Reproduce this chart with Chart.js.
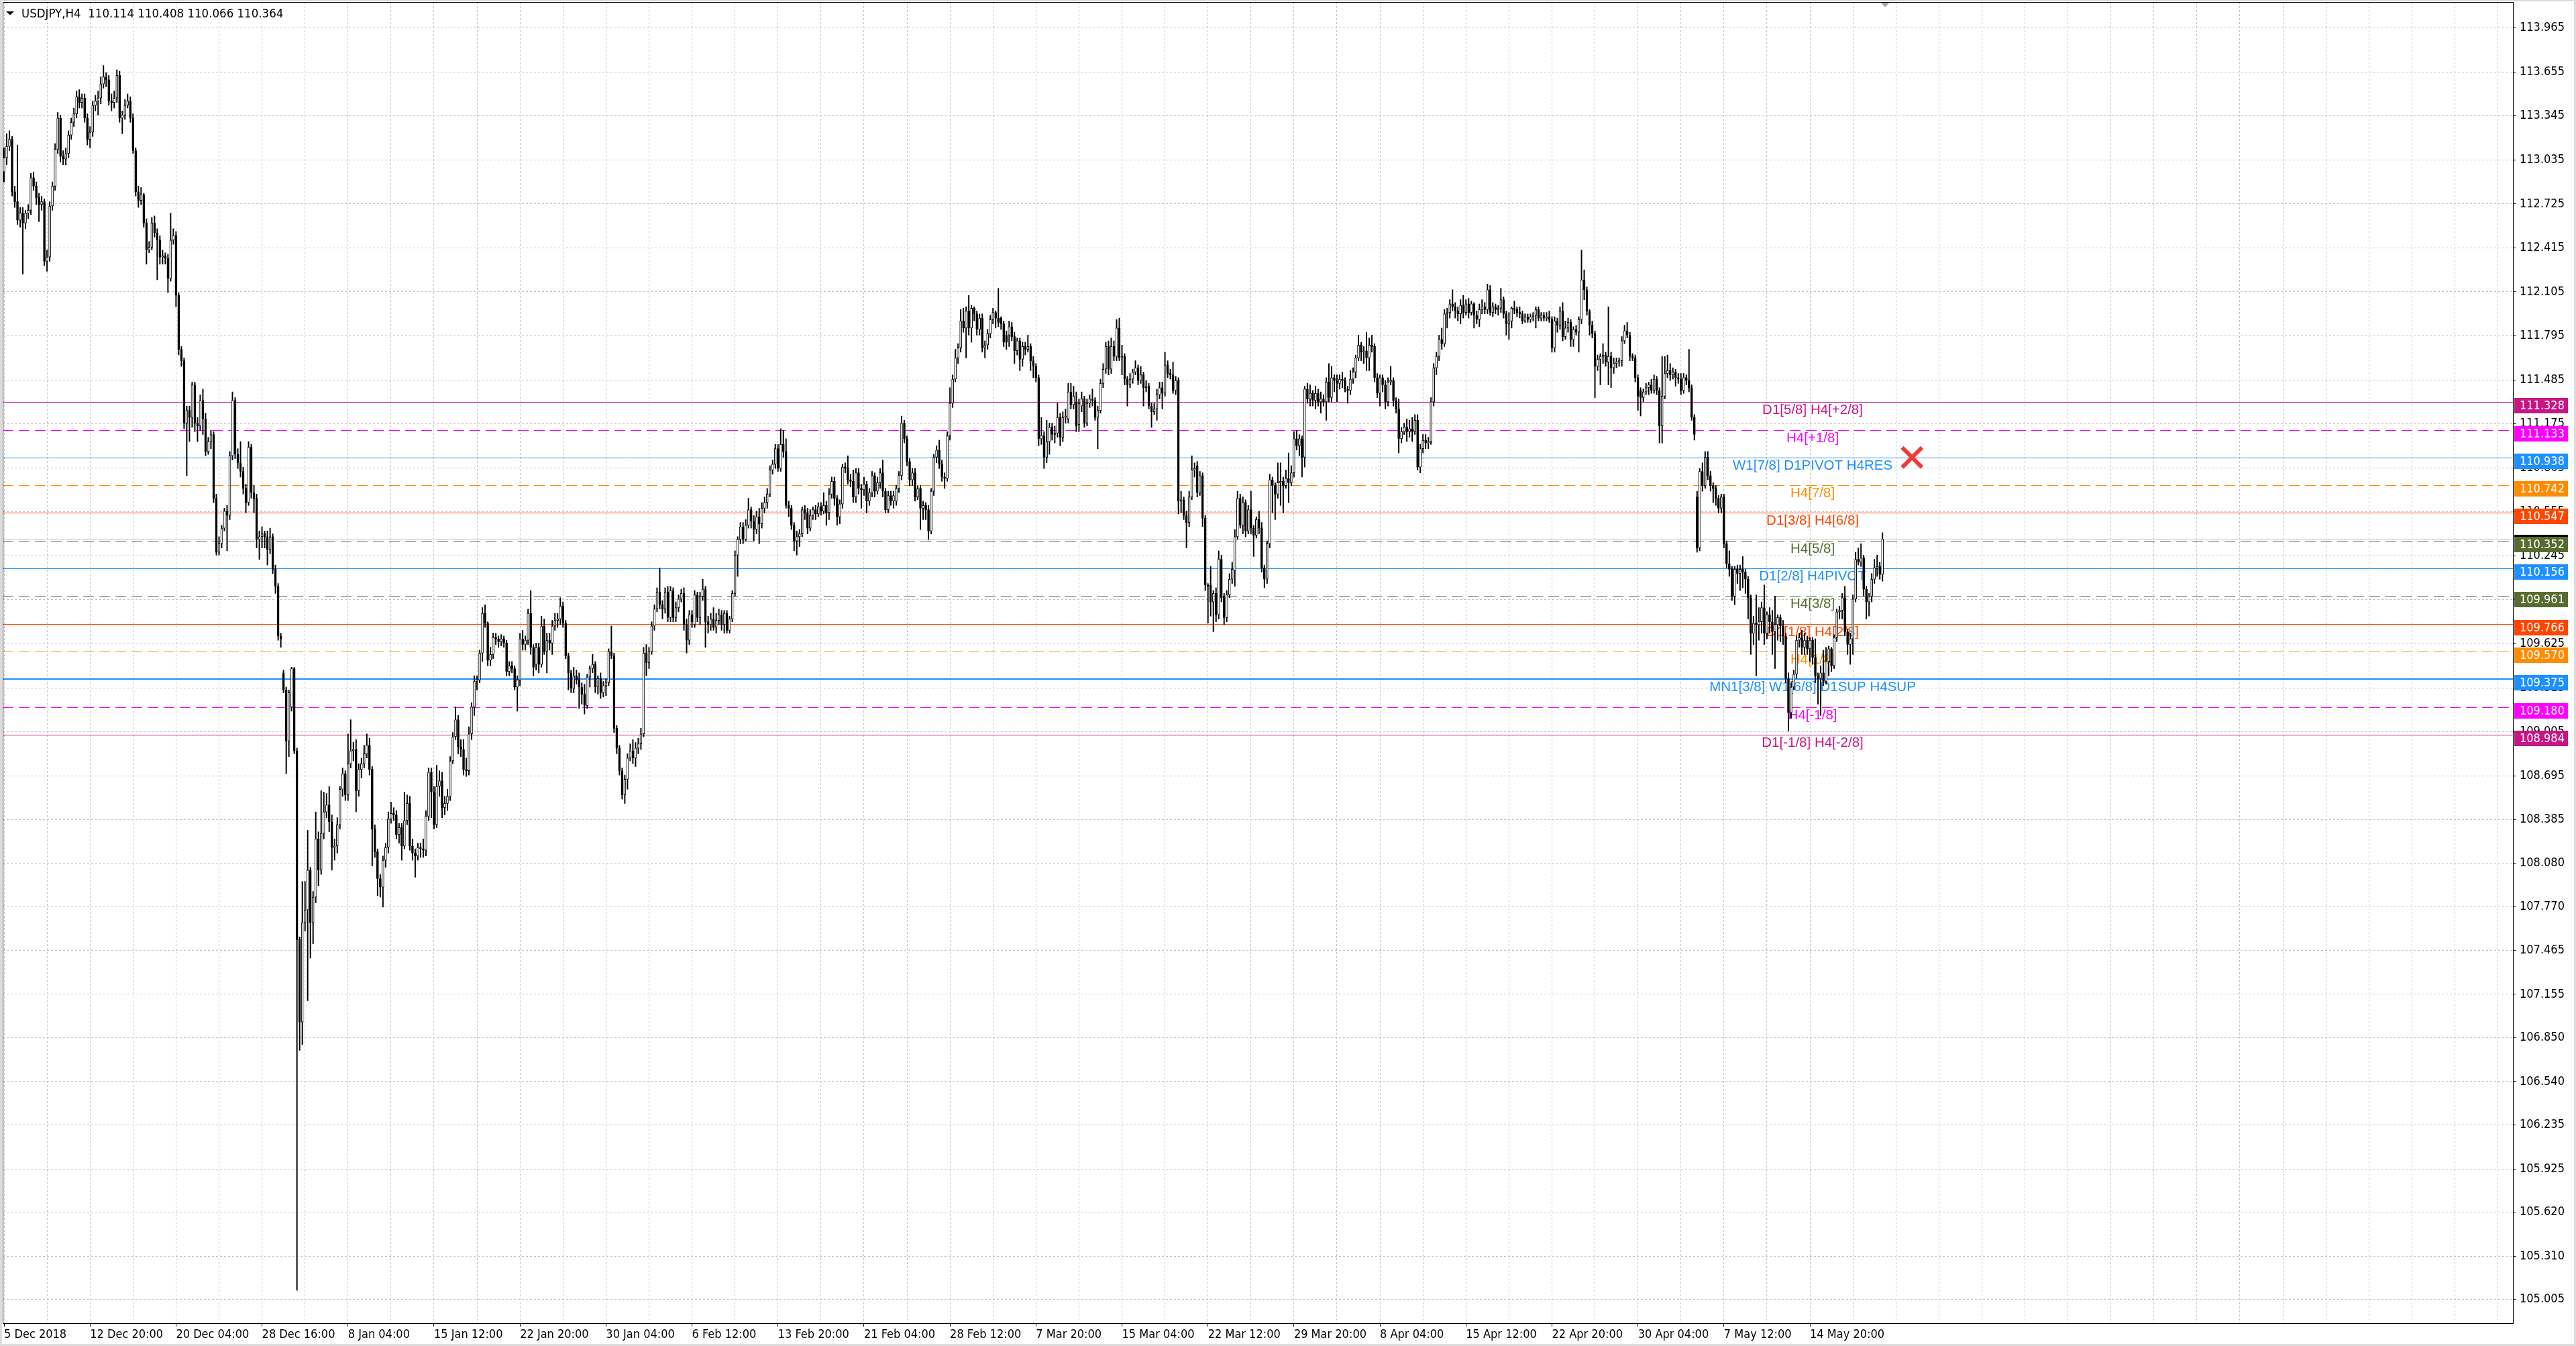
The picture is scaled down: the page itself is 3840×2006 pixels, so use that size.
<!DOCTYPE html>
<html><head><meta charset="utf-8">
<script src="https://cdn.jsdelivr.net/npm/chart.js@4.4.1/dist/chart.umd.min.js"></script>
<style>html,body{margin:0;padding:0;background:#fff;overflow:hidden}canvas{display:block}</style>
</head><body>
<canvas id="c" width="3840" height="2006"></canvas>
<script>
const headerText = 'USDJPY,H4  110.114 110.408 110.066 110.364';

const opens = [
112.95,113.05,113.13,113.18,112.81,112.74,112.61,112.66,112.59,112.66,
112.68,112.91,112.85,112.77,112.72,112.74,112.32,112.35,112.71,112.85,
113.11,113.33,113.06,113.04,113.08,113.21,113.30,113.36,113.48,113.44,
113.47,113.33,113.18,113.23,113.42,113.45,113.47,113.57,113.62,113.60,
113.45,113.44,113.47,113.63,113.33,113.35,113.42,113.45,113.33,113.10,
112.81,112.75,112.79,112.59,112.40,112.42,112.59,112.52,112.47,112.35,
112.36,112.34,112.20,112.47,112.50,112.08,111.70,111.62,111.18,111.27,
111.22,111.45,111.18,111.16,111.34,111.21,110.98,111.05,111.10,110.65,
110.27,110.33,110.44,110.56,110.53,110.95,111.34,110.96,110.90,110.84,
110.72,110.62,111.01,110.69,110.65,110.36,110.38,110.40,110.38,110.29,
110.38,110.15,110.03,109.68,
109.42,109.30,108.94,109.18,109.45,108.87,
107.54,106.96,107.66,107.75,108.03,107.66,107.84,108.25,108.03,108.29,
108.44,108.49,108.37,108.19,108.20,108.35,108.60,108.71,108.56,108.78,
108.87,108.88,108.59,108.74,108.78,108.85,108.91,108.74,108.32,108.16,
107.97,107.91,108.10,108.19,108.39,108.43,108.42,108.28,108.33,108.20,
108.38,108.50,108.20,108.15,108.13,108.19,108.18,108.17,108.41,108.72,
108.58,108.35,108.62,108.66,108.47,108.50,108.55,108.80,108.97,109.09,
108.90,108.88,108.74,108.73,108.99,109.18,109.36,109.37,
109.56,109.84,
109.77,109.51,109.55,109.67,109.66,109.64,109.66,109.63,109.43,109.47,
109.45,109.32,109.37,109.66,109.62,109.65,109.84,109.60,109.48,109.60,
109.48,109.75,109.57,109.65,109.63,109.75,109.79,109.80,109.89,109.77,
109.54,109.42,109.31,109.40,109.37,109.32,109.27,109.19,109.39,109.45,
109.48,109.32,109.38,109.28,109.33,109.35,109.57,109.54,109.03,108.89,
108.73,108.56,108.67,108.82,108.87,108.82,108.89,108.92,108.99,109.56,
109.49,109.57,109.75,109.87,109.99,109.90,109.87,109.99,109.81,110.00,
109.81,109.88,109.94,109.98,109.76,109.65,109.83,109.76,109.97,109.81,
109.96,110.01,109.78,109.76,109.80,109.74,109.79,109.83,109.76,109.84,
109.72,109.80,109.98,110.25,110.36,110.45,110.36,110.46,110.57,110.49,
110.43,110.52,110.47,110.58,110.62,110.68,110.85,110.89,111.00,110.86,
111.03,110.98,110.60,110.58,110.46,110.35,110.38,110.40,110.57,110.55,
110.44,110.53,110.57,110.54,110.59,110.56,110.60,110.55,110.68,110.77,
110.65,110.52,110.61,110.87,110.86,110.78,110.77,110.66,110.83,110.72,
110.71,110.75,110.63,110.69,110.81,110.70,110.76,110.83,110.70,110.57,
110.67,110.63,110.63,110.72,110.81,111.18,111.07,110.91,110.78,110.83,
110.66,110.72,110.58,110.60,110.57,110.42,110.70,110.94,110.99,110.89,
110.80,110.79,111.09,
111.32,111.49,111.64,111.71,111.90,111.85,111.97,
111.85,111.99,111.95,111.84,111.92,111.71,111.73,111.81,111.91,111.96,
111.92,111.92,111.88,111.80,111.80,111.86,111.79,111.69,111.76,111.63,
111.72,111.70,111.72,111.62,111.58,111.50,111.07,111.09,110.94,111.05,
111.15,111.10,111.11,111.22,111.08,111.22,111.21,111.40,111.31,111.33,
111.17,111.30,111.35,111.18,111.32,111.35,111.34,111.22,111.27,111.46,
111.56,111.72,111.56,111.72,111.65,111.85,111.64,111.65,111.49,111.45,
111.49,111.54,111.57,111.48,111.52,111.43,111.44,111.30,111.26,111.28,
111.38,111.43,111.39,111.59,111.53,111.52,111.41,111.48,110.63,110.64,
110.53,110.48,110.66,110.85,110.88,110.69,110.81,110.51,110.04,110.04,
109.92,109.98,109.83,110.22,109.96,109.81,109.97,110.08,110.14,110.38,
110.65,110.46,110.62,110.42,110.57,110.44,110.39,110.50,110.44,110.16,
110.08,110.33,110.78,110.74,110.68,110.76,110.77,110.74,110.79,110.76,
110.83,111.07,111.02,111.07,110.94,111.42,111.35,111.39,111.34,111.39,
111.33,111.35,111.33,111.47,111.36,111.50,111.48,111.46,111.49,111.48,
111.42,111.41,111.49,111.54,111.64,111.73,111.68,111.69,111.64,111.73,
111.72,111.50,111.39,111.50,111.45,111.33,111.47,111.48,111.34,111.28,
111.07,111.12,111.15,111.12,111.14,111.12,111.20,110.87,111.00,111.06,
111.04,111.05,111.33,111.57,111.65,111.77,111.74,111.95,111.96,112.02,
112.00,111.97,111.95,112.01,111.96,112.02,111.96,112.02,111.94,111.91,
111.98,112.00,111.98,112.12,111.96,112.00,111.98,111.99,112.05,111.95,
111.88,111.90,111.99,111.98,111.96,111.95,111.90,111.93,111.91,111.93,
111.94,111.98,111.92,111.94,111.92,111.93,111.91,111.71,111.90,111.87,
111.97,111.79,111.85,111.89,111.77,111.84,111.82,111.91,112.19,112.12,
111.97,111.87,111.81,111.58,111.63,111.65,111.66,111.61,111.65,111.57,
111.60,111.61,111.62,111.76,111.83,111.80,111.65,111.64,111.50,111.41,
111.36,111.40,111.43,111.45,111.41,111.49,111.41,111.16,111.37,111.53,
111.55,111.52,111.54,111.50,111.49,111.41,111.50,111.48,111.43,111.22,
110.66,110.30,110.84,110.74,110.94,110.81,110.74,110.72,110.65,110.58,
110.66,110.33,110.19,110.15,109.96,110.15,110.12,110.15,110.13,110.08,
109.95,109.70,109.77,109.76,109.78,109.88,109.70,109.83,109.78,109.71,
109.76,109.81,109.75,109.68,109.38,109.14,109.32,109.41,109.65,109.67,
109.60,109.65,109.59,109.65,109.53,109.40,109.38,109.42,109.36,109.50,
109.59,109.47,109.67,109.85,109.86,109.95,109.71,109.62,109.66,109.94,
110.22,110.20,110.23,110.01,109.92,109.96,110.08,110.16,110.17,110.114
];

const highs = [
113.12,113.22,113.24,113.20,112.85,113.14,112.70,112.70,112.68,112.72,
112.94,112.95,112.88,112.80,112.78,112.76,112.40,112.74,112.88,113.15,
113.37,113.35,113.10,113.12,113.24,113.33,113.40,113.52,113.53,113.50,
113.50,113.36,113.27,113.45,113.49,113.52,113.62,113.70,113.65,113.63,
113.50,113.52,113.67,113.66,113.38,113.46,113.50,113.48,113.36,113.12,
112.85,112.84,112.80,112.62,112.46,112.63,112.64,112.55,112.50,112.40,
112.38,112.37,112.66,112.55,112.53,112.10,111.72,111.64,111.30,111.30,
111.47,111.47,111.22,111.38,111.42,111.25,111.08,111.13,111.12,110.68,
110.38,110.46,110.58,110.60,110.98,111.40,111.36,111.00,111.05,110.87,
110.75,111.05,111.03,110.74,110.68,110.42,110.45,110.42,110.42,110.44,
110.40,110.18,110.05,109.70,
109.44,109.32,109.30,109.46,109.46,108.89,
107.56,107.95,107.95,108.31,108.05,107.88,108.44,108.30,108.59,108.58,
108.57,108.62,108.42,108.25,108.40,108.62,108.75,108.73,108.99,109.09,
108.93,108.95,108.78,108.82,108.91,108.99,108.96,108.76,108.35,108.18,
108.00,108.13,108.22,108.44,108.51,108.47,108.45,108.36,108.36,108.58,
108.56,108.55,108.25,108.18,108.22,108.22,108.25,108.45,108.75,108.75,
108.62,108.77,108.73,108.72,108.55,108.60,108.83,109.00,109.18,109.12,
108.95,108.95,108.82,109.04,109.21,109.40,109.40,109.58,
109.88,109.90,
109.78,109.60,109.70,109.70,109.68,109.69,109.68,109.65,109.50,109.50,
109.47,109.40,109.70,109.72,109.68,109.87,110.00,109.62,109.63,109.63,
109.82,109.80,109.70,109.70,109.79,109.84,109.84,109.95,109.92,109.79,
109.56,109.44,109.46,109.44,109.42,109.35,109.34,109.41,109.47,109.55,
109.50,109.40,109.42,109.36,109.38,109.59,109.75,109.56,109.05,108.91,
108.75,108.70,108.85,108.92,108.95,108.93,108.96,109.03,109.60,109.62,
109.60,109.78,109.90,110.02,110.16,109.93,110.02,110.03,110.03,110.02,
109.92,109.97,110.01,110.02,109.80,109.86,109.86,110.00,109.99,109.99,
110.08,110.03,109.82,109.84,109.88,109.84,109.87,109.86,109.86,109.86,
109.82,110.00,110.28,110.38,110.48,110.48,110.50,110.65,110.59,110.53,
110.56,110.58,110.62,110.66,110.72,110.88,110.92,111.03,111.03,111.14,
111.13,111.07,110.63,110.60,110.48,110.42,110.43,110.59,110.60,110.58,
110.57,110.59,110.60,110.62,110.62,110.69,110.63,110.72,110.80,110.80,
110.67,110.64,110.89,110.90,110.95,110.82,110.85,110.86,110.86,110.75,
110.80,110.77,110.72,110.84,110.83,110.80,110.86,110.92,110.72,110.70,
110.70,110.70,110.74,110.84,111.23,111.20,111.09,110.93,110.86,110.86,
110.74,110.74,110.63,110.62,110.60,110.72,110.96,111.02,111.06,110.92,
110.83,111.12,111.43,
111.52,111.70,111.74,111.98,111.99,112.00,112.08,
112.01,112.00,111.97,111.95,111.95,111.76,111.84,111.94,111.99,111.97,
112.13,111.93,111.90,111.83,111.90,111.89,111.82,111.78,111.78,111.75,
111.75,111.80,111.74,111.65,111.60,111.52,111.22,111.12,111.20,111.18,
111.18,111.16,111.32,111.25,111.26,111.28,111.46,111.46,111.44,111.40,
111.35,111.40,111.37,111.35,111.38,111.42,111.36,111.30,111.49,111.60,
111.75,111.76,111.78,111.76,111.91,111.92,111.73,111.67,111.51,111.53,
111.56,111.62,111.59,111.58,111.54,111.48,111.46,111.32,111.32,111.42,
111.47,111.47,111.68,111.62,111.56,111.61,111.51,111.50,110.70,110.66,
110.56,110.70,110.95,110.90,110.91,110.84,110.83,110.53,110.05,110.17,
110.00,110.02,110.28,110.25,109.98,110.00,110.12,110.20,110.43,110.70,
110.68,110.66,110.64,110.60,110.70,110.46,110.52,110.56,110.48,110.18,
110.35,110.82,110.80,110.76,110.90,110.90,110.80,110.85,110.97,110.88,
111.12,111.13,111.10,111.09,111.44,111.46,111.45,111.41,111.44,111.42,
111.40,111.38,111.50,111.60,111.58,111.52,111.52,111.52,111.54,111.50,
111.44,111.55,111.57,111.66,111.80,111.75,111.72,111.82,111.78,111.80,
111.74,111.53,111.52,111.52,111.48,111.50,111.58,111.50,111.36,111.35,
111.15,111.18,111.21,111.20,111.22,111.24,111.24,111.03,111.10,111.10,
111.08,111.36,111.60,111.68,111.80,111.85,111.98,111.99,112.05,112.12,
112.03,112.00,112.05,112.08,112.05,112.06,112.04,112.03,111.97,112.02,
112.05,112.03,112.16,112.15,112.03,112.02,112.01,112.13,112.07,111.97,
111.96,112.00,112.04,112.00,112.00,111.97,111.95,111.95,111.95,111.96,
112.00,112.00,111.96,111.96,111.96,111.97,111.93,111.93,111.92,112.00,
112.03,111.90,111.92,111.91,111.86,111.87,111.93,112.40,112.26,112.14,
111.98,111.90,111.83,111.66,111.67,111.74,111.68,112.00,111.68,111.64,
111.64,111.64,111.79,111.87,111.89,111.82,111.67,111.66,111.52,111.43,
111.42,111.46,111.47,111.49,111.52,111.51,111.43,111.65,111.65,111.66,
111.60,111.57,111.56,111.53,111.53,111.53,111.52,111.70,111.45,111.24,
110.70,110.86,110.90,110.98,110.98,110.84,110.76,110.74,110.67,110.68,
110.68,110.35,110.28,110.17,110.17,110.18,110.18,110.24,110.15,110.10,
109.97,109.82,109.97,109.88,109.92,110.04,109.85,109.88,109.86,109.96,
109.83,109.83,109.79,109.70,109.42,109.35,109.44,109.68,109.70,109.72,
109.70,109.68,109.67,109.67,109.66,109.42,109.47,109.58,109.60,109.61,
109.60,109.69,109.87,109.89,109.98,110.03,109.73,109.70,109.97,110.27,
110.30,110.33,110.25,110.03,109.98,110.12,110.22,110.25,110.20,110.408
];

const lows = [
112.88,113.00,113.10,112.78,112.70,112.58,112.56,112.23,112.55,112.62,
112.65,112.82,112.72,112.60,112.68,112.29,112.25,112.32,112.68,112.82,
113.08,113.02,113.00,113.00,113.05,113.18,113.27,113.33,113.40,113.40,
113.30,113.14,113.12,113.20,113.38,113.35,113.43,113.54,113.55,113.42,
113.38,113.40,113.44,113.30,113.22,113.32,113.40,113.30,113.08,112.78,
112.70,112.72,112.56,112.30,112.38,112.40,112.49,112.19,112.30,112.30,
112.30,112.10,112.18,112.44,112.00,111.66,111.58,111.14,110.81,111.05,
111.15,111.12,111.05,111.13,111.10,110.95,110.96,111.00,110.62,110.25,
110.25,110.30,110.42,110.28,110.50,110.92,110.93,110.86,110.80,110.68,
110.55,110.60,110.65,110.55,110.30,110.22,110.30,110.30,110.18,110.26,
110.12,109.98,109.65,109.60,
109.28,108.71,108.83,109.15,108.85,105.07,
106.76,106.80,107.60,107.11,107.41,107.51,107.80,107.92,108.00,108.25,
108.40,108.30,108.03,108.10,108.15,108.32,108.55,108.52,108.52,108.75,
108.80,108.44,108.55,108.68,108.75,108.82,108.70,108.06,108.12,107.85,
107.84,107.77,108.05,108.15,108.36,108.38,108.25,108.22,108.10,108.18,
108.35,108.17,108.10,107.98,108.10,108.12,108.12,108.13,108.38,108.40,
108.32,108.33,108.55,108.40,108.42,108.45,108.52,108.78,108.95,108.85,
108.83,108.70,108.69,108.70,108.95,109.12,109.30,109.35,
109.50,109.74,
109.47,109.47,109.52,109.62,109.60,109.61,109.60,109.40,109.40,109.42,
109.30,109.15,109.33,109.58,109.58,109.62,109.55,109.40,109.44,109.42,
109.46,109.55,109.42,109.58,109.55,109.72,109.74,109.76,109.74,109.52,
109.30,109.28,109.28,109.34,109.17,109.20,109.13,109.17,109.32,109.42,
109.28,109.27,109.24,109.25,109.26,109.33,109.52,109.00,108.85,108.70,
108.53,108.50,108.60,108.80,108.78,108.76,108.85,108.88,108.97,109.40,
109.45,109.55,109.72,109.85,109.87,109.80,109.84,109.78,109.78,109.78,
109.78,109.85,109.92,109.72,109.56,109.62,109.74,109.74,109.78,109.76,
109.93,109.60,109.70,109.72,109.72,109.70,109.76,109.72,109.70,109.70,
109.70,109.78,109.96,110.10,110.33,110.33,110.35,110.44,110.44,110.35,
110.40,110.33,110.44,110.55,110.58,110.66,110.82,110.86,110.84,110.84,
110.94,110.58,110.52,110.43,110.28,110.25,110.31,110.38,110.50,110.40,
110.42,110.50,110.50,110.52,110.53,110.54,110.46,110.50,110.65,110.60,
110.46,110.47,110.58,110.83,110.75,110.73,110.62,110.62,110.68,110.58,
110.67,110.55,110.60,110.66,110.66,110.68,110.72,110.66,110.55,110.55,
110.60,110.58,110.60,110.69,110.78,111.04,110.88,110.74,110.74,110.63,
110.64,110.43,110.50,110.50,110.36,110.40,110.67,110.90,110.86,110.77,
110.72,110.77,111.06,
111.29,111.47,111.60,111.68,111.82,111.64,111.80,
111.75,111.90,111.80,111.80,111.68,111.64,111.70,111.78,111.88,111.85,
111.86,111.84,111.72,111.70,111.72,111.76,111.60,111.66,111.55,111.58,
111.66,111.68,111.55,111.50,111.47,111.02,111.03,110.86,110.90,110.96,
111.06,111.04,111.08,111.02,111.05,111.18,111.18,111.28,111.28,111.12,
111.12,111.26,111.15,111.16,111.29,111.30,111.20,111.00,111.25,111.43,
111.53,111.52,111.53,111.62,111.62,111.62,111.52,111.45,111.30,111.43,
111.46,111.52,111.45,111.46,111.30,111.40,111.28,111.15,111.24,111.20,
111.35,111.28,111.37,111.50,111.49,111.39,111.38,110.54,110.55,110.50,
110.30,110.45,110.64,110.80,110.66,110.67,110.45,110.00,109.77,109.82,
109.71,109.78,109.80,109.92,109.76,109.78,109.95,110.05,110.03,110.36,
110.44,110.40,110.38,110.40,110.40,110.24,110.37,110.40,110.13,110.02,
110.05,110.30,110.55,110.50,110.65,110.60,110.55,110.72,110.62,110.74,
110.80,110.99,110.95,110.80,110.87,111.32,111.30,111.30,111.28,111.30,
111.25,111.30,111.20,111.33,111.33,111.40,111.33,111.42,111.43,111.40,
111.32,111.38,111.46,111.50,111.62,111.62,111.60,111.55,111.55,111.68,
111.47,111.36,111.30,111.40,111.28,111.30,111.45,111.30,111.25,110.97,
111.04,111.10,111.05,111.08,111.05,111.10,110.85,110.83,110.97,111.00,
111.00,111.03,111.30,111.52,111.62,111.70,111.72,111.85,111.92,111.97,
111.92,111.90,111.88,111.92,111.94,111.92,111.94,111.85,111.88,111.86,
111.95,111.95,111.95,111.94,111.93,111.95,111.94,111.96,111.92,111.80,
111.77,111.85,111.95,111.93,111.92,111.88,111.89,111.89,111.89,111.90,
111.85,111.90,111.90,111.90,111.90,111.89,111.68,111.68,111.82,111.84,
111.76,111.77,111.82,111.72,111.72,111.80,111.68,111.88,112.05,111.94,
111.80,111.78,111.36,111.55,111.45,111.60,111.58,111.45,111.43,111.53,
111.57,111.58,111.58,111.74,111.78,111.62,111.62,111.47,111.27,111.23,
111.33,111.38,111.38,111.39,111.39,111.38,111.04,111.04,111.35,111.50,
111.48,111.49,111.44,111.46,111.38,111.39,111.45,111.40,111.20,111.06,
110.27,110.28,110.70,110.72,110.78,110.70,110.62,110.60,110.55,110.55,
110.30,110.16,110.10,109.93,109.90,110.05,110.00,110.02,109.98,109.80,
109.55,109.62,109.40,109.65,109.70,109.62,109.66,109.70,109.55,109.45,
109.65,109.64,109.62,109.35,109.01,109.10,109.30,109.38,109.60,109.55,
109.55,109.55,109.50,109.48,109.35,109.20,109.12,109.33,109.34,109.40,
109.43,109.45,109.64,109.80,109.80,109.68,109.55,109.48,109.55,109.92,
110.18,110.17,109.96,109.80,109.82,109.92,110.05,110.10,110.08,110.066
];

const closes = [
113.05,113.13,113.18,112.81,112.74,112.61,112.66,112.59,112.66,112.68,
112.91,112.85,112.77,112.72,112.74,112.32,112.35,112.71,112.85,113.11,
113.33,113.06,113.04,113.08,113.21,113.30,113.36,113.48,113.44,113.47,
113.33,113.18,113.23,113.42,113.45,113.47,113.57,113.62,113.60,113.45,
113.44,113.47,113.63,113.33,113.35,113.42,113.45,113.33,113.10,112.81,
112.75,112.79,112.59,112.40,112.42,112.59,112.52,112.47,112.35,112.36,
112.34,112.20,112.47,112.50,112.08,111.70,111.62,111.18,111.27,111.22,
111.45,111.18,111.16,111.34,111.21,110.98,111.05,111.10,110.65,110.27,
110.33,110.44,110.56,110.53,110.95,111.34,110.96,110.90,110.84,110.72,
110.62,111.01,110.69,110.65,110.36,110.38,110.40,110.38,110.29,110.38,
110.15,110.03,109.68,109.66,
109.30,108.94,109.28,109.45,108.87,107.54,
106.96,107.66,107.75,108.03,107.66,107.84,108.25,108.03,108.29,108.44,
108.49,108.37,108.19,108.20,108.35,108.60,108.71,108.56,108.78,108.87,
108.88,108.59,108.74,108.78,108.85,108.91,108.74,108.32,108.16,107.97,
107.91,108.10,108.19,108.39,108.43,108.42,108.28,108.33,108.20,108.38,
108.50,108.20,108.15,108.13,108.19,108.18,108.17,108.41,108.72,108.58,
108.35,108.62,108.66,108.47,108.50,108.55,108.80,108.97,109.09,108.90,
108.88,108.74,108.73,108.99,109.18,109.36,109.37,109.56,
109.84,109.77,
109.51,109.55,109.67,109.66,109.64,109.66,109.63,109.43,109.47,109.45,
109.32,109.37,109.66,109.62,109.65,109.84,109.60,109.46,109.60,109.48,
109.75,109.57,109.65,109.63,109.75,109.79,109.80,109.89,109.77,109.54,
109.42,109.31,109.40,109.37,109.32,109.27,109.19,109.39,109.45,109.48,
109.32,109.38,109.28,109.33,109.35,109.57,109.54,109.03,108.89,108.73,
108.56,108.67,108.82,108.87,108.82,108.89,108.92,108.99,109.56,109.49,
109.57,109.75,109.87,109.99,109.90,109.87,109.99,109.81,110.00,109.81,
109.88,109.94,109.98,109.76,109.65,109.83,109.78,109.97,109.81,109.96,
110.01,109.78,109.76,109.80,109.74,109.79,109.83,109.76,109.84,109.72,
109.80,109.98,110.25,110.36,110.45,110.36,110.46,110.57,110.49,110.43,
110.52,110.47,110.58,110.62,110.68,110.85,110.89,111.00,110.86,111.03,
110.98,110.60,110.58,110.46,110.35,110.38,110.40,110.57,110.55,110.44,
110.53,110.57,110.54,110.59,110.56,110.60,110.55,110.68,110.77,110.65,
110.52,110.61,110.87,110.86,110.78,110.77,110.66,110.83,110.72,110.71,
110.75,110.63,110.69,110.81,110.70,110.76,110.83,110.70,110.57,110.67,
110.63,110.67,110.72,110.81,111.18,111.07,110.91,110.78,110.83,110.66,
110.72,110.58,110.60,110.57,110.42,110.70,110.94,110.99,110.89,110.80,
110.79,111.09,111.32,
111.49,111.64,111.71,111.90,111.85,111.97,111.85,
111.99,111.95,111.84,111.92,111.71,111.73,111.81,111.91,111.96,111.92,
111.89,111.88,111.75,111.75,111.86,111.79,111.69,111.76,111.63,111.72,
111.70,111.72,111.62,111.58,111.50,111.07,111.09,110.94,111.05,111.15,
111.10,111.11,111.22,111.08,111.22,111.23,111.40,111.31,111.37,111.16,
111.32,111.35,111.18,111.32,111.35,111.34,111.22,111.27,111.46,111.56,
111.72,111.56,111.72,111.65,111.85,111.64,111.65,111.49,111.45,111.49,
111.54,111.57,111.48,111.52,111.43,111.44,111.30,111.26,111.28,111.38,
111.43,111.39,111.59,111.53,111.52,111.41,111.48,110.63,110.64,110.53,
110.48,110.66,110.85,110.86,110.69,110.81,110.51,110.04,110.03,109.92,
109.98,109.83,110.22,109.95,109.81,109.97,110.08,110.15,110.38,110.65,
110.46,110.62,110.42,110.57,110.44,110.39,110.50,110.44,110.16,110.08,
110.33,110.78,110.74,110.68,110.76,110.77,110.74,110.79,110.76,110.83,
111.07,111.02,111.07,110.94,111.42,111.35,111.39,111.34,111.39,111.33,
111.35,111.33,111.47,111.36,111.50,111.48,111.46,111.49,111.48,111.42,
111.41,111.49,111.54,111.64,111.73,111.68,111.69,111.64,111.73,111.72,
111.50,111.39,111.50,111.45,111.33,111.47,111.48,111.34,111.28,111.07,
111.12,111.15,111.12,111.14,111.12,111.20,110.87,111.00,111.06,111.04,
111.05,111.33,111.57,111.65,111.77,111.74,111.95,111.96,112.02,112.00,
111.97,111.95,112.01,111.96,112.02,111.96,112.02,111.94,111.91,111.98,
112.00,111.98,112.12,111.96,112.00,111.98,111.99,112.05,111.95,111.88,
111.90,111.99,111.98,111.96,111.95,111.90,111.93,111.91,111.93,111.94,
111.98,111.92,111.94,111.92,111.93,111.91,111.71,111.90,111.87,111.97,
111.79,111.85,111.89,111.77,111.84,111.82,111.91,112.19,112.12,111.97,
111.87,111.81,111.58,111.63,111.65,111.66,111.61,111.65,111.57,111.60,
111.61,111.62,111.76,111.83,111.80,111.65,111.64,111.50,111.37,111.36,
111.40,111.43,111.45,111.41,111.49,111.41,111.16,111.37,111.53,111.55,
111.52,111.54,111.50,111.49,111.41,111.50,111.48,111.43,111.22,111.10,
110.30,110.84,110.74,110.94,110.81,110.74,110.72,110.65,110.58,110.66,
110.33,110.19,110.15,109.96,110.15,110.12,110.15,110.13,110.08,109.95,
109.70,109.77,109.76,109.78,109.88,109.70,109.83,109.78,109.71,109.76,
109.81,109.75,109.68,109.38,109.14,109.32,109.41,109.65,109.67,109.60,
109.65,109.59,109.65,109.53,109.40,109.38,109.42,109.36,109.50,109.59,
109.47,109.67,109.85,109.86,109.95,109.71,109.62,109.66,109.94,110.22,
110.20,110.23,110.01,109.92,109.96,110.08,110.16,110.17,110.114,110.364
];

const xTickLabels = ['5 Dec 2018','12 Dec 20:00','20 Dec 04:00','28 Dec 16:00','8 Jan 04:00','15 Jan 12:00',
  '22 Jan 20:00','30 Jan 04:00','6 Feb 12:00','13 Feb 20:00','21 Feb 04:00','28 Feb 12:00','7 Mar 20:00',
  '15 Mar 04:00','22 Mar 12:00','29 Mar 20:00','8 Apr 04:00','15 Apr 12:00','22 Apr 20:00','30 Apr 04:00',
  '7 May 12:00','14 May 20:00'];
const xTickStep = 32;
const xGridStep = 16;
const yTickValues = [113.965,113.655,113.345,113.035,112.725,112.415,112.105,111.795,111.485,111.175,
  110.865,110.555,110.245,109.935,109.625,109.315,109.005,108.695,108.385,108.080,107.770,107.465,
  107.155,106.850,106.540,106.235,105.925,105.620,105.310,105.005];

const levelPrices = [111.328,111.133,110.938,110.742,110.547,110.352,110.156,109.961,109.766,109.570,109.375,109.180,108.984];
const levelNames = ['D1[5/8] H4[+2/8]','H4[+1/8]','W1[7/8] D1PIVOT H4RES','H4[7/8]','D1[3/8] H4[6/8]','H4[5/8]',
  'D1[2/8] H4PIVOT','H4[3/8]','D1[1/8] H4[2/8]','H4[1/8]','MN1[3/8] W1[6/8] D1SUP H4SUP','H4[-1/8]','D1[-1/8] H4[-2/8]'];
const levelColors = ['#C71585','#FF00FF','#1E90FF','#FF8C00','#FF4500','#556B2F','#1E90FF','#556B2F','#FF4500','#FF8C00','#1E90FF','#FF00FF','#C71585'];
const levelDashed = [false,true,false,true,false,true,false,true,false,true,false,true,false];
const levelWidths = [1,1,1,1,1,1,1,1,1,1,2,1,1];
const bidPrice = 110.364;
const levelLabelBar = 673;
const closeMarkX = [710];
const closeMarkY = [110.938];

const TAHOMA = "'DejaVu Sans Condensed', 'Noto Sans', sans-serif";
const ARIAL = "'Liberation Sans', Arial, sans-serif";

if (![opens, highs, lows].every(a => a.length === closes.length)) console.error('length mismatch', opens.length, highs.length, lows.length, closes.length);
const N = closes.length;

const wickData = closes.map((c, i) => ({x: i, y: [Math.min(lows[i], opens[i], c), Math.max(highs[i], opens[i], c)]}));
const bodyData = closes.map((c, i) => ({x: i, y: [Math.min(opens[i], c), Math.max(opens[i], c)]}));

function hline(ctx, x1, x2, y) { ctx.beginPath(); ctx.moveTo(x1, y); ctx.lineTo(x2, y); ctx.stroke(); }

const overlay = {
  id: 'overlay',
  beforeDraw(chart) {
    const {ctx, width, height} = chart;
    ctx.save();
    ctx.fillStyle = '#ffffff';
    ctx.fillRect(0, 0, width, height);
    ctx.restore();
  },
  beforeDatasetsDraw(chart) {
    const {ctx, chartArea: a, scales: {x, y}} = chart;
    ctx.save();
    ctx.beginPath(); ctx.rect(a.left, a.top, a.right - a.left, a.bottom - a.top); ctx.clip();
    ctx.lineWidth = 1; ctx.setLineDash([]); ctx.strokeStyle = '#c0c0c0';
    hline(ctx, a.left, a.right, Math.round(y.getPixelForValue(bidPrice)) + 0.5);
    const lx = x.getPixelForValue(levelLabelBar);
    levelPrices.forEach((p, i) => {
      const w = levelWidths[i];
      const py = Math.round(y.getPixelForValue(p)) + (w % 2 ? 0.5 : 0);
      ctx.strokeStyle = levelColors[i]; ctx.lineWidth = w;
      ctx.setLineDash(levelDashed[i] ? [16, 8] : []);
      hline(ctx, a.left, a.right, py);
      ctx.setLineDash([]);
      ctx.fillStyle = levelColors[i];
      ctx.font = '20.5px ' + ARIAL;
      ctx.textAlign = 'center'; ctx.textBaseline = 'alphabetic';
      ctx.fillText(levelNames[i], lx, py + 17.5);
    });
    ctx.restore();
  },
  afterDraw(chart) {
    const {ctx, chartArea: a, scales: {x, y}, width, height} = chart;
    ctx.save();
    ctx.strokeStyle = '#000'; ctx.lineWidth = 1; ctx.setLineDash([]);
    ctx.strokeRect(a.left + 0.5, a.top + 0.5, a.right - a.left, a.bottom - a.top);
    ctx.beginPath(); ctx.moveTo(a.right + 0.5, a.top); ctx.lineTo(a.right + 0.5, a.bottom + 1); ctx.stroke();
    ctx.beginPath(); ctx.moveTo(a.left, a.bottom + 0.5); ctx.lineTo(a.right + 1, a.bottom + 0.5); ctx.stroke();
    ctx.fillStyle = '#dcdcdc';
    ctx.fillRect(0, 0, width, 2);
    ctx.fillRect(0, 0, 3, height);
    ctx.fillRect(width - 3, 0, 3, height);
    ctx.fillRect(0, height - 3, width, 3);
    ctx.fillStyle = '#000';
    ctx.beginPath(); ctx.moveTo(9, 17); ctx.lineTo(21, 17); ctx.lineTo(15, 22.5); ctx.closePath(); ctx.fill();
    ctx.font = '18.5px ' + TAHOMA; ctx.textAlign = 'left'; ctx.textBaseline = 'alphabetic';
    ctx.fillText(headerText, 32, 25.5);
    const sx = x.getPixelForValue(N);
    ctx.fillStyle = '#a8a8a8';
    ctx.beginPath(); ctx.moveTo(sx - 6, a.top + 1); ctx.lineTo(sx + 6, a.top + 1); ctx.lineTo(sx, a.top + 8); ctx.closePath(); ctx.fill();
    const boxes = [[bidPrice, '#000000']].concat(levelPrices.map((p, i) => [p, levelColors[i]]));
    ctx.font = '18px ' + TAHOMA; ctx.textBaseline = 'middle'; ctx.textAlign = 'left';
    boxes.forEach(([p, col]) => {
      const py = Math.round(y.getPixelForValue(p));
      ctx.fillStyle = col;
      ctx.fillRect(a.right + 2, py - 6, 80, 23);
      ctx.fillStyle = '#fff';
      ctx.fillText(p.toFixed(3), a.right + 10, py + 6);
    });
    ctx.restore();
  }
};

new Chart(document.getElementById('c').getContext('2d'), {
  type: 'bar',
  data: {
    datasets: [
      {label: 'wicks', data: wickData, backgroundColor: '#000', borderWidth: 0, barThickness: 1.3, grouped: false, order: 2},
      {label: 'bodies', data: bodyData,
       backgroundColor: c => (closes[c.dataIndex] >= opens[c.dataIndex] ? '#ffffff' : '#000000'),
       borderColor: '#000', borderWidth: 1, borderSkipped: false, barThickness: 3, minBarLength: 1, grouped: false, order: 1},
      {type: 'scatter', label: 'close', data: closeMarkX.map((v, i) => ({x: v, y: closeMarkY[i]})),
       pointStyle: 'crossRot', radius: 21, borderWidth: 6, borderColor: '#ee3b3b', backgroundColor: '#ee3b3b', order: 0}
    ]
  },
  options: {
    responsive: false, animation: false, devicePixelRatio: 1,
    layout: {autoPadding: false, padding: {left: 4, top: 3, right: 6, bottom: 4}},
    plugins: {legend: {display: false}, tooltip: {enabled: false}, title: {display: false}},
    scales: {
      x: {
        type: 'linear', min: -0.5, max: 933.6, offset: false,
        afterBuildTicks: s => { const t = []; for (let v = 0; v <= s.max; v += xGridStep) t.push({value: v}); s.ticks = t; },
        afterFit: s => { s.height = 30; s.paddingLeft = 0; s.paddingRight = 0; s.paddingTop = 0; s.paddingBottom = 0; },
        grid: {color: '#c4c4c4', lineWidth: 1, tickLength: 5, offset: false,
               tickColor: c => (c.tick && c.tick.value % xTickStep === 0 && c.tick.value / xTickStep < xTickLabels.length) ? '#000' : 'rgba(0,0,0,0)'},
        border: {display: false, dash: [3, 3]},
        ticks: {autoSkip: false, maxRotation: 0, minRotation: 0, align: 'start', padding: 2, color: '#000',
                font: {family: TAHOMA, size: 18},
                callback: v => (v % xTickStep === 0 && v / xTickStep < xTickLabels.length) ? xTickLabels[v / xTickStep] : ''}
      },
      y: {
        position: 'right', min: 104.8375, max: 114.1475,
        afterBuildTicks: s => { s.ticks = yTickValues.map(v => ({value: v})); },
        afterFit: s => { s.width = 88; s.paddingLeft = 0; s.paddingRight = 0; s.paddingTop = 0; s.paddingBottom = 0; },
        grid: {color: '#c4c4c4', lineWidth: 1, tickLength: 4, tickColor: '#000'},
        border: {display: false, dash: [3, 3]},
        ticks: {autoSkip: false, padding: 6, color: '#000', font: {family: TAHOMA, size: 18}, callback: v => v.toFixed(3)}
      }
    }
  },
  plugins: [overlay]
});
</script>
</body></html>
